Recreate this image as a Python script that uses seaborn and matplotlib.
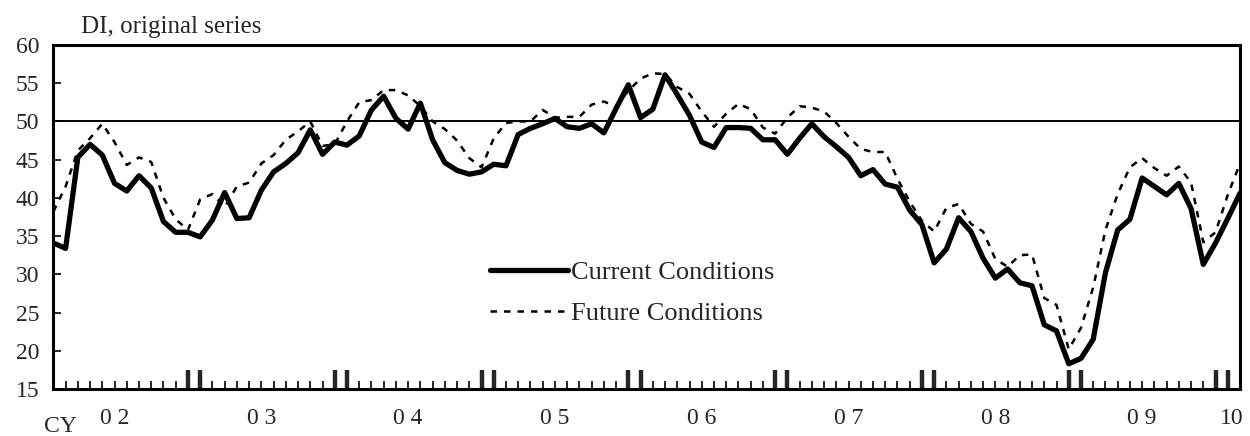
import numpy as np
import pandas as pd
import seaborn as sns
import matplotlib.pyplot as plt
from matplotlib.transforms import blended_transform_factory

# Monthly DI, Jan 2002 .. Feb 2010
current = [34.1, 33.4, 45.3, 47.0, 45.6, 41.9, 40.9, 42.9, 41.3, 36.9, 35.5, 35.5,
           34.9, 37.1, 40.7, 37.3, 37.4, 41.0, 43.4, 44.5, 45.9, 48.9, 45.7, 47.3,
           46.9, 48.1, 51.5, 53.3, 50.4, 49.0, 52.4, 47.6, 44.6, 43.6, 43.1, 43.4,
           44.4, 44.2, 48.3, 49.1, 49.7, 50.4, 49.3, 49.1, 49.7, 48.5, 51.7, 54.8,
           50.5, 51.6, 56.1, 53.5, 50.8, 47.3, 46.6, 49.2, 49.2, 49.1, 47.6, 47.6,
           45.7, 47.8, 49.7, 48.0, 46.7, 45.3, 42.9, 43.7, 41.8, 41.4, 38.4, 36.5,
           31.5, 33.3, 37.4, 35.6, 32.1, 29.5, 30.7, 28.9, 28.5, 23.4, 22.6, 18.3,
           19.0, 21.5, 30.2, 35.8, 37.2, 42.6, 41.5, 40.4, 41.9, 38.6, 31.3, 34.1,
           37.3, 40.6]
future = [38.2, 41.5, 46.2, 47.8, 49.7, 47.3, 44.3, 45.3, 44.7, 40.0, 37.2, 35.8,
          39.8, 40.5, 38.8, 41.5, 42.0, 44.5, 45.6, 47.6, 48.7, 50.0, 46.8, 47.0,
          50.0, 52.5, 52.8, 54.1, 54.1, 53.4, 52.0, 50.0, 49.0, 47.5, 45.2, 44.0,
          47.8, 49.8, 50.0, 50.0, 51.5, 50.5, 50.6, 50.6, 52.2, 52.6, 52.0, 54.0,
          55.6, 56.3, 56.2, 54.5, 53.6, 51.3, 49.3, 51.0, 52.3, 51.6, 49.2, 48.4,
          50.5, 52.0, 51.8, 51.3, 49.8, 48.0, 46.4, 46.0, 46.0, 42.5, 39.5, 37.0,
          35.6, 38.7, 39.2, 36.6, 35.6, 32.0, 31.0, 32.5, 32.6, 26.9, 26.0, 20.2,
          23.0, 28.3, 35.8, 40.5, 44.0, 45.2, 43.9, 42.9, 44.1, 42.0, 34.2, 35.5,
          40.4, 44.5]
months = np.arange(len(current))
year_labels = ['0 2', '0 3', '0 4', '0 5', '0 6', '0 7', '0 8', '0 9', '10']
y_ticks = [15, 20, 25, 30, 35, 40, 45, 50, 55, 60]

df = pd.DataFrame({'month': months, 'Current Conditions': current,
                   'Future Conditions': future})

sns.set_style('ticks')
plt.rcParams['font.family'] = ['Liberation Serif', 'DejaVu Serif']

fig = plt.figure(figsize=(12.5, 4.36), dpi=100)
ax = fig.add_axes([0.0427, 0.1078, 0.9493, 0.789])

ax.axhline(50, color='black', lw=1.4, zorder=1)
sns.lineplot(data=df, x='month', y='Future Conditions', ax=ax, color='black',
             lw=1.8, linestyle=(0, (2.6, 2.8)), label='Future Conditions', zorder=2)
sns.lineplot(data=df, x='month', y='Current Conditions', ax=ax, color='black',
             lw=3.8, label='Current Conditions', zorder=3)

ax.set_xlim(0, len(current) - 1)
ax.set_ylim(15, 60)
ax.set_yticks(y_ticks)
ax.tick_params(axis='y', direction='in', length=6, width=1.4, labelsize=17, pad=10)

# monthly ticks, taller ones at each Dec/Jan boundary
tall = [m for k in range(1, 9) for m in (12 * k - 1, 12 * k)]
ax.set_xticks(tall)
ax.set_xticks([m for m in months if m not in tall], minor=True)
ax.tick_params(axis='x', which='major', direction='in', length=14, width=3.2,
               labelbottom=False)
ax.tick_params(axis='x', which='minor', direction='in', length=6, width=1.4)
ax.set_xlabel('')
ax.set_ylabel('')

for s in ax.spines.values():
    s.set_linewidth(2.2)
    s.set_color('black')

trans = blended_transform_factory(ax.transData, ax.transAxes)
label_pos = [12 * k + 5 for k in range(8)] + [96.3]
for xp, lab in zip(label_pos, year_labels):
    ax.text(xp, -0.085, lab, transform=trans, ha='center', va='center', fontsize=17)
ax.text(0.006, -0.108, 'CY', transform=ax.transAxes, ha='center', va='center',
        fontsize=17)
ax.text(0.023, 1.02, 'DI, original series', transform=ax.transAxes,
        ha='left', va='bottom', fontsize=18)

handles, labels = ax.get_legend_handles_labels()
order = [labels.index('Current Conditions'), labels.index('Future Conditions')]
ax.legend([handles[i] for i in order], [labels[i] for i in order],
          loc='center left', bbox_to_anchor=(0.368, 0.279), frameon=False,
          fontsize=19, handlelength=2.95, handletextpad=0.12, labelspacing=0.65,
          borderpad=0, borderaxespad=0)

fig.savefig('out.png', dpi=100)
